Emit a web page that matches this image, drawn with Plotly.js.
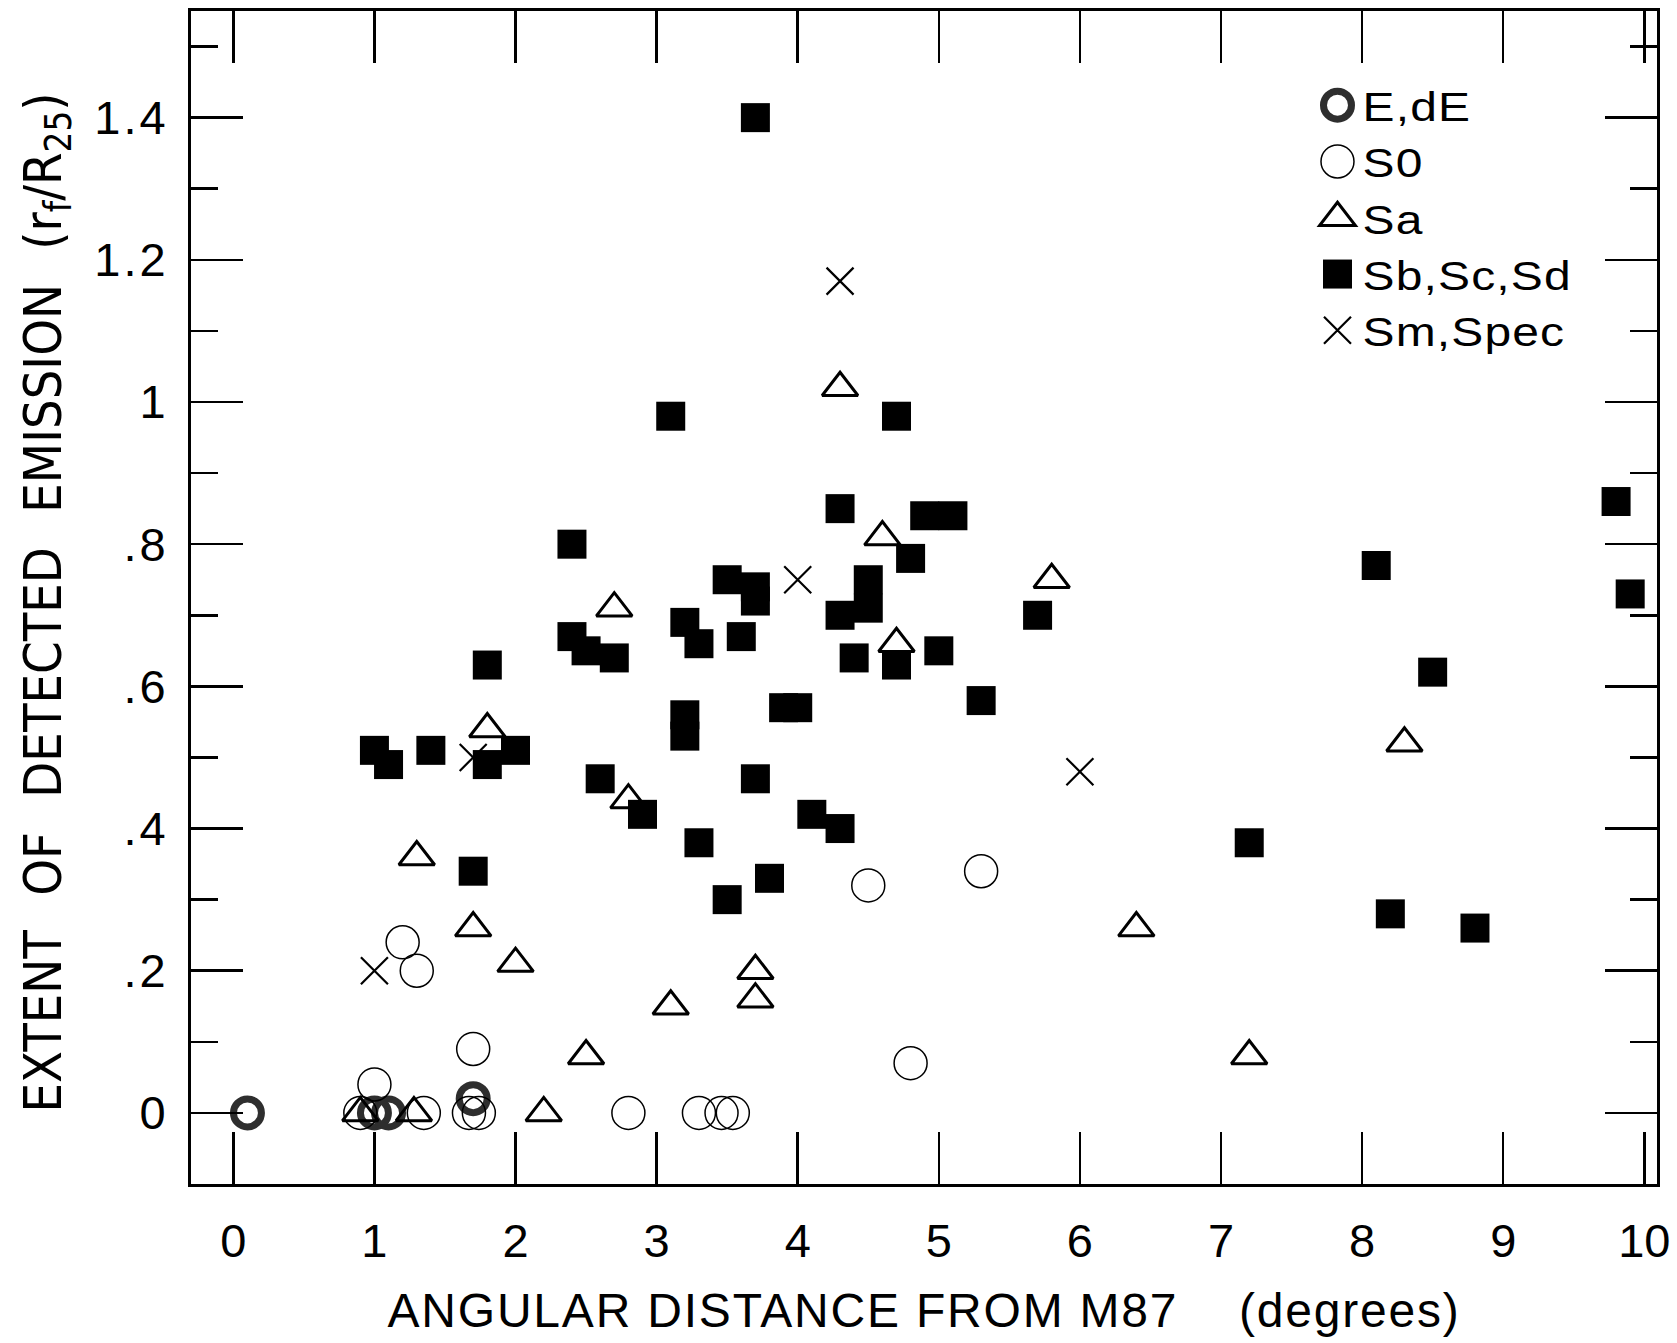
<!DOCTYPE html>
<html><head><meta charset="utf-8">
<script src="https://cdn.plot.ly/plotly-3.0.1.min.js"></script>
<style>
html,body{margin:0;padding:0;background:#fff;}
#chart{width:1677px;height:1343px;}
#chart .legendtext{letter-spacing:1px;}
#chart .ytick text{letter-spacing:3px;}
#chart .g-xtitle text{letter-spacing:1.8px;}
</style>
</head><body><div id="chart"></div>
<script>
// ---- data ----
const seriesNames = ["E,dE", "S0", "Sa", "Sb,Sc,Sd", "Sm,Spec"];

const edeX = [0.1, 1.0, 1.1, 1.7];
const edeY = [0, 0, 0, 0.02];

const s0X = [0.9, 1.35, 1.67, 1.74, 2.8, 3.3, 3.46, 3.54, 1.0, 1.7, 4.8, 1.3, 1.2, 4.5, 5.3];
const s0Y = [0, 0, 0, 0, 0, 0, 0, 0, 0.04, 0.09, 0.07, 0.20, 0.24, 0.32, 0.34];

const saX = [0.9, 1.28, 2.2, 2.5, 7.2, 3.1, 3.7, 3.7, 2.0, 1.7, 6.4, 1.3, 2.8, 8.3, 1.8, 4.7, 2.7, 5.8, 4.6, 4.3];
const saY = [0, 0, 0, 0.08, 0.08, 0.15, 0.16, 0.20, 0.21, 0.26, 0.26, 0.36, 0.44, 0.52, 0.54, 0.66, 0.71, 0.75, 0.81, 1.02];

const sbX = [3.7, 3.1, 4.7, 4.3, 4.9, 5.1, 2.4, 4.8, 8.1, 3.5,
             3.7, 3.7, 4.5, 4.5, 4.3, 5.7, 9.9, 9.8, 3.2, 3.3,
             3.6, 2.4, 2.5, 2.7, 4.4, 4.7, 5.0, 1.8, 8.5, 5.3,
             3.2, 3.2, 3.9, 4.0, 1.0, 1.1, 1.4, 1.8, 2.0, 2.6,
             3.7, 2.9, 4.1, 4.3, 3.3, 7.2, 1.7, 3.8, 3.5, 8.2, 8.8];
const sbY = [1.40, 0.98, 0.98, 0.85, 0.84, 0.84, 0.80, 0.78, 0.77, 0.75,
             0.74, 0.72, 0.75, 0.71, 0.70, 0.70, 0.73, 0.86, 0.69, 0.66,
             0.67, 0.67, 0.65, 0.64, 0.64, 0.63, 0.65, 0.63, 0.62, 0.58,
             0.56, 0.53, 0.57, 0.57, 0.51, 0.49, 0.51, 0.49, 0.51, 0.47,
             0.47, 0.42, 0.42, 0.40, 0.38, 0.38, 0.34, 0.33, 0.30, 0.28, 0.26];

const smX = [4.3, 4.0, 1.7, 6.0, 1.0];
const smY = [1.17, 0.75, 0.50, 0.48, 0.20];

const xTickVals = [0, 1, 2, 3, 4, 5, 6, 7, 8, 9, 10];
const xTickText = ["0", "1", "2", "3", "4", "5", "6", "7", "8", "9", "10"];
const yTickVals = [0, 0.2, 0.4, 0.6, 0.8, 1.0, 1.2, 1.4];
const yTickText = ["0", ".2", ".4", ".6", ".8", "1", "1.2", "1.4"];
const yMinorVals = [0.1, 0.3, 0.5, 0.7, 0.9, 1.1, 1.3, 1.5];

// ---- styling ----
const NB = '\u00a0';
const GAP = NB + NB + '\u200a';
const markerStyles = [
  {symbol: 'circle-open', size: 28, color: '#2e2e2e', lw: 7},
  {symbol: 'circle-open', size: 33, color: '#000', lw: 1.5},
  {symbol: 'triangle-up-open', size: 31, color: '#000', lw: 3},
  {symbol: 'square', size: 29, color: '#000', lw: 0},
  {symbol: 'x-thin-open', size: 27, color: '#000', lw: 2.2}
];
const xs = [edeX, s0X, saX, sbX, smX];
const ys = [edeY, s0Y, saY, sbY, smY];

const traces = seriesNames.map((name, i) => {
  const st = markerStyles[i];
  return {
    type: 'scatter', mode: 'markers', name: name,
    x: xs[i], y: ys[i],
    marker: {
      symbol: st.symbol, size: st.size, color: st.color,
      line: {color: st.color, width: st.lw}
    },
    hoverinfo: 'skip'
  };
});

const font = '"Liberation Sans", Arial, Helvetica, sans-serif';
const layout = {
  width: 1677, height: 1343,
  margin: {l: 191, r: 20, t: 11, b: 159, pad: 0},
  paper_bgcolor: '#fff', plot_bgcolor: '#fff',
  font: {family: font, color: '#000'},
  showlegend: true,
  xaxis: {
    range: [-0.3, 10.09], tickmode: 'array', tickvals: xTickVals, ticktext: xTickText,
    ticks: 'inside', ticklen: 52, tickwidth: 2.5, tickcolor: '#000',
    showline: true, linewidth: 3, linecolor: '#000', mirror: 'ticks',
    showgrid: false, zeroline: false, automargin: false,
    tickfont: {size: 47, family: font, color: '#000'},
    ticklabelstandoff: 14,
    title: {text: 'ANGULAR DISTANCE FROM M87' + NB + NB + NB + NB + '(degrees)',
            font: {size: 48, family: font, color: '#000'}, standoff: 27}
  },
  yaxis: {
    range: [-0.1, 1.55], tickmode: 'array', tickvals: yTickVals, ticktext: yTickText,
    ticks: 'inside', ticklen: 52, tickwidth: 2.5, tickcolor: '#000',
    minor: {tickmode: 'array', tickvals: yMinorVals, ticks: 'inside', ticklen: 27, tickwidth: 2.5, tickcolor: '#000'},
    showline: true, linewidth: 3, linecolor: '#000', mirror: 'ticks',
    showgrid: false, zeroline: false, automargin: false,
    tickfont: {size: 47, family: font, color: '#000'},
    ticklabelstandoff: 10,
    title: {text: 'EXTENT' + GAP + 'OF' + GAP + 'DETECTED' + GAP + 'EMISSION' + GAP + '(r<sub>f</sub>/R<sub>25</sub>)',
            font: {size: 52, family: '"Liberation Sans Narrow", "DejaVu Sans Condensed", "Arial Narrow", "Liberation Sans", sans-serif', color: '#000'},
            standoff: 26}
  },
  legend: {
    x: 0.765, y: 0.948, xanchor: 'left', yanchor: 'top',
    bgcolor: 'rgba(0,0,0,0)', borderwidth: 0,
    font: {size: 41, family: font, color: '#000'},
    itemwidth: 40, tracegroupgap: 0
  }
};

Plotly.newPlot('chart', traces, layout, {staticPlot: true, responsive: false}).then(gd => {
  // enlarge legend symbols to match the plotted marker sizes
  const items = gd.querySelectorAll('.legend .traces');
  items.forEach((it, i) => {
    const st = markerStyles[i];
    if (!st) return;
    const p = it.querySelector('path.scatterpts');
    if (p) {
      const k = st.size / 16;
      const tr = p.getAttribute('transform') || '';
      p.setAttribute('transform', tr + ' scale(' + k + ')');
      p.style.strokeWidth = (st.lw / k) + 'px';
    }
    // slightly wider legend lettering, as in the reference
    const t = it.querySelector('text.legendtext');
    if (t) {
      const x = parseFloat(t.getAttribute('x')) || 0;
      const tr0 = t.getAttribute('transform') || '';
      t.setAttribute('transform', tr0 + ' translate(' + x + ',0) scale(1.17,1) translate(' + (-x) + ',0)');
    }
  });
  const lg = gd.querySelector('.legend');
  if (lg) {
    lg.removeAttribute('clip-path');
    lg.querySelectorAll('[clip-path]').forEach(e => e.removeAttribute('clip-path'));
  }
  // the reference title sits a little below the plot centre
  const yt = gd.querySelector('.g-ytitle');
  if (yt) yt.setAttribute('transform', 'translate(0,5)');
});
</script>
</body></html>
